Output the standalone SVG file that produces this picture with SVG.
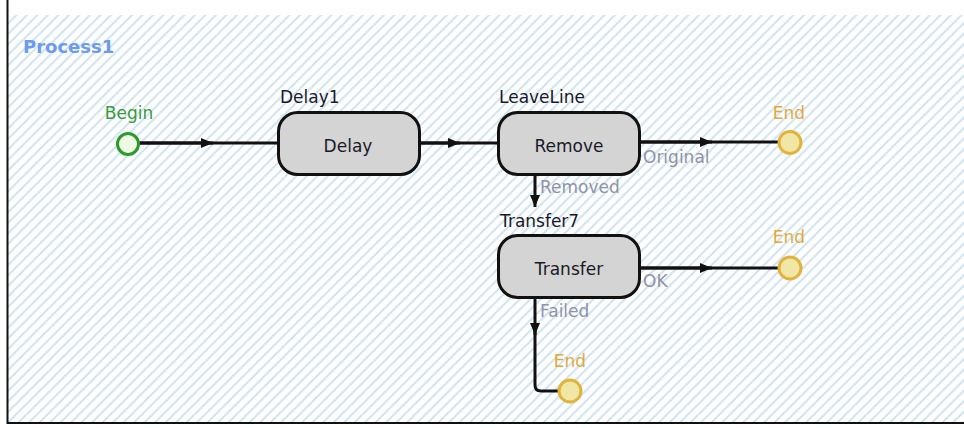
<svg xmlns="http://www.w3.org/2000/svg" width="964" height="428" viewBox="0 0 964 428">
  <defs>
    <pattern id="hatch" patternUnits="userSpaceOnUse" width="10.5" height="10.5">
      <path d="M-2,2 L2,-2 M0,10.5 L10.5,0 M8.5,12.5 L12.5,8.5" stroke="#cde3ef" stroke-width="2"/>
    </pattern>
    <marker id="arr" markerWidth="12" markerHeight="10" refX="12" refY="5" orient="auto" markerUnits="userSpaceOnUse">
      <path d="M0,0 L12,5 L0,10 Z" fill="#111"/>
    </marker>
    <style>
      text { font-family: "DejaVu Sans", "Liberation Sans", sans-serif; font-size: 17px; }
      .box { fill: #d4d4d4; stroke: #111; stroke-width: 3; }
      .lbl { fill: #1a1a2a; }
      .inner { fill: #1a1a2a; text-anchor: middle; }
      .port { fill: #8e93a8; }
      .endc { fill: #f0e6a6; stroke: #e2b23a; stroke-width: 3; }
      .endt { fill: #e3a83a; text-anchor: middle; }
      .conn { fill: none; stroke: #111; stroke-width: 3; }
    </style>
  </defs>
  <rect x="0" y="0" width="964" height="428" fill="#fff"/>
  <rect x="8" y="15" width="956" height="407" fill="url(#hatch)"/>
  <path d="M7.5,0 V423 H964" fill="none" stroke="#111" stroke-width="2"/>
  <text x="23" y="53" style="font-weight:bold;font-size:18px" fill="#6b9bef">Process1</text>

  <g id="connectors">
    <path class="conn" d="M139,143 H278"/>
    <path class="conn" d="M139,143 H213" marker-end="url(#arr)"/>
    <path class="conn" d="M419,143 H498"/>
    <path class="conn" d="M419,143 H460" marker-end="url(#arr)"/>
    <path class="conn" d="M640,142 H778"/>
    <path class="conn" d="M640,142 H712" marker-end="url(#arr)"/>
    <path class="conn" d="M535,174 V207" marker-end="url(#arr)"/>
    <path class="conn" d="M640,268 H778"/>
    <path class="conn" d="M640,268 H712" marker-end="url(#arr)"/>
    <path class="conn" d="M535,298 V335" marker-end="url(#arr)"/>
    <path class="conn" d="M535,330 V385 Q535,391 541,391 H558"/>
    <text class="port" x="643" y="163">Original</text>
    <text class="port" x="540" y="193">Removed</text>
    <text class="port" x="643" y="287">OK</text>
    <text class="port" x="540" y="317">Failed</text>
  </g>

  <g id="begin">
    <circle cx="128" cy="144" r="10.5" fill="#eef9e6" stroke="#2c9a2c" stroke-width="3"/>
    <text x="129" y="119" text-anchor="middle" fill="#3a9a3a">Begin</text>
  </g>

  <g id="delay1">
    <rect class="box" x="278.5" y="112.5" width="141" height="62" rx="19"/>
    <text class="lbl" x="280" y="103">Delay1</text>
    <text class="inner" x="348" y="152">Delay</text>
  </g>

  <g id="leaveline">
    <rect class="box" x="498.5" y="112.5" width="141" height="62" rx="19"/>
    <text class="lbl" x="499" y="103">LeaveLine</text>
    <text class="inner" x="569" y="152">Remove</text>
  </g>

  <g id="transfer7">
    <rect class="box" x="498.5" y="235.5" width="141" height="62" rx="19"/>
    <text class="lbl" x="500" y="227">Transfer7</text>
    <text class="inner" x="569" y="275">Transfer</text>
  </g>

  <g id="end1">
    <circle class="endc" cx="790" cy="142.5" r="11"/>
    <text class="endt" x="789" y="119">End</text>
  </g>

  <g id="end2">
    <circle class="endc" cx="790" cy="268" r="11"/>
    <text class="endt" x="789" y="243">End</text>
  </g>

  <g id="end3">
    <circle class="endc" cx="570" cy="391" r="11"/>
    <text class="endt" x="570" y="367">End</text>
  </g>
</svg>
